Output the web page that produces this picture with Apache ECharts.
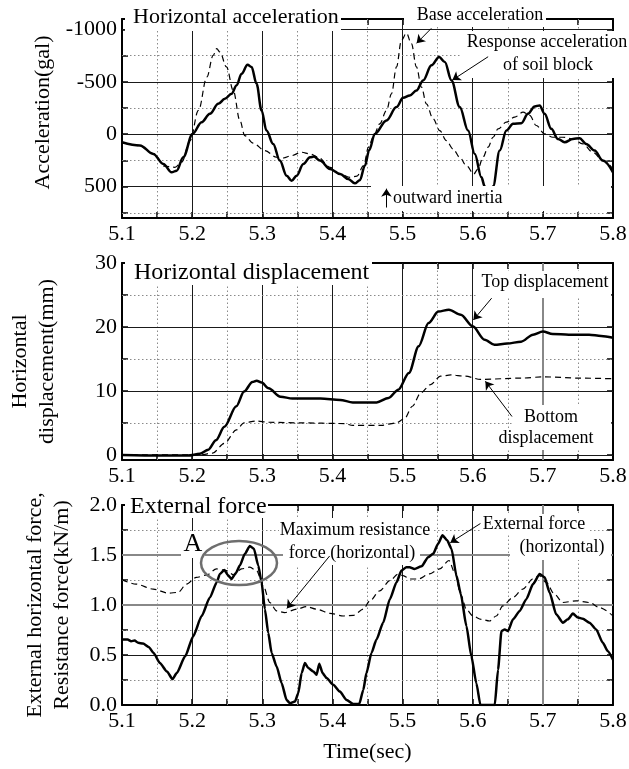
<!DOCTYPE html>
<html><head><meta charset="utf-8">
<script src="https://cdn.jsdelivr.net/npm/echarts@6/dist/echarts.min.js"></script>
<style>html,body{margin:0;padding:0;background:#fff}#c{width:629px;height:769px}</style>
</head><body><div id="c"></div>
<script>
// ---------- tick values ----------
const timeTicks = [5.1, 5.2, 5.3, 5.4, 5.5, 5.6, 5.7, 5.8];
const timeMinor = [5.15, 5.25, 5.35, 5.45, 5.55, 5.65, 5.75];
const accTicks = [-1000, -500, 0, 500];
const accMinor = [-750, -250, 250, 750];
const dispTicks = [0, 10, 20, 30];
const dispMinor = [5, 15, 25];
const forceTicks = [0, 0.5, 1.0, 1.5, 2.0];
const forceMinor = [0.25, 0.75, 1.25, 1.75];

// ---------- data: [time (s), value] ----------
const baseAcc = [[5.100,77],[5.125,110],[5.145,188],[5.161,306],[5.1755,316],[5.185,268],[5.197,61],[5.209,-227],[5.221,-546],[5.230,-753],[5.235,-817],[5.2396,-785],[5.249,-642],[5.2586,-418],[5.2681,-131],[5.275,13],[5.287,86],[5.3037,156],[5.3203,220],[5.330,227],[5.3418,204],[5.356,172],[5.368,188],[5.380,220],[5.3965,316],[5.411,380],[5.4254,412],[5.435,400],[5.4444,300],[5.4515,124],[5.458,29],[5.4675,-99],[5.4771,-227],[5.4842,-386],[5.4913,-642],[5.4984,-897],[5.5055,-965],[5.5126,-865],[5.5198,-642],[5.5269,-450],[5.534,-290],[5.5435,-147],[5.553,-35],[5.5625,61],[5.5719,140],[5.5815,220],[5.591,300],[5.6015,380],[5.6076,330],[5.6147,220],[5.6219,124],[5.629,29],[5.6361,-51],[5.648,-115],[5.6598,-163],[5.6717,-211],[5.6812,-179],[5.6907,-83],[5.7025,-3],[5.7144,29],[5.7286,29],[5.7428,45],[5.757,93],[5.7713,172],[5.7855,252],[5.800,332]];
const responseAcc = [[5.100,77],[5.1256,108],[5.1446,188],[5.1589,284],[5.1707,364],[5.178,348],[5.1873,220],[5.2006,-3],[5.2135,-115],[5.2253,-195],[5.2372,-290],[5.2467,-338],[5.2562,-386],[5.2633,-466],[5.2705,-578],[5.279,-664],[5.2847,-642],[5.2918,-482],[5.299,-227],[5.306,-35],[5.3155,93],[5.325,252],[5.3347,396],[5.3418,444],[5.349,396],[5.3585,284],[5.368,220],[5.3737,214],[5.3822,252],[5.3965,332],[5.411,380],[5.4225,428],[5.432,469],[5.439,440],[5.4463,300],[5.4525,150],[5.4604,-3],[5.4771,-131],[5.4913,-259],[5.5008,-348],[5.5103,-370],[5.5198,-418],[5.5293,-514],[5.5412,-658],[5.5521,-737],[5.5602,-690],[5.5697,-514],[5.5815,-259],[5.5934,-35],[5.6029,188],[5.6124,412],[5.6171,498],[5.6233,620],[5.629,498],[5.6385,156],[5.648,-35],[5.6575,-99],[5.6693,-105],[5.6788,-195],[5.6883,-265],[5.6954,-275],[5.7025,-195],[5.712,-51],[5.7215,45],[5.731,77],[5.7428,45],[5.7523,38],[5.7618,93],[5.7737,156],[5.7855,252],[5.800,364]];
const topDisp = [[5.100,0],[5.154,-0.1],[5.194,-0.1],[5.211,0.16],[5.223,0.8],[5.234,2.3],[5.246,4.4],[5.263,7.6],[5.274,9.9],[5.286,11.4],[5.292,11.6],[5.299,11.3],[5.309,10.4],[5.326,9.1],[5.343,8.8],[5.383,8.8],[5.411,8.6],[5.429,8.2],[5.463,8.2],[5.480,8.9],[5.494,10.2],[5.509,12.8],[5.523,17.0],[5.537,20.6],[5.551,22.4],[5.566,22.7],[5.583,21.9],[5.600,20.1],[5.617,18.0],[5.631,17.2],[5.649,17.4],[5.669,17.7],[5.686,18.8],[5.700,19.3],[5.714,18.9],[5.737,18.8],[5.766,18.8],[5.783,18.6],[5.800,18.3]];
const bottomDisp = [[5.100,0],[5.211,0],[5.229,0.26],[5.246,1.8],[5.263,3.9],[5.274,5.0],[5.291,5.3],[5.309,5.1],[5.354,5.0],[5.417,4.9],[5.429,4.6],[5.469,4.6],[5.491,5.0],[5.503,5.7],[5.514,7.6],[5.526,9.7],[5.540,11.0],[5.554,12.3],[5.569,12.5],[5.589,12.3],[5.611,11.8],[5.669,12.0],[5.700,12.2],[5.754,12.0],[5.800,11.9]];
const externalForce = [[5.100,0.655],[5.108,0.655],[5.113,0.638],[5.118,0.645],[5.123,0.622],[5.130,0.615],[5.138,0.581],[5.145,0.521],[5.154,0.42],[5.164,0.336],[5.172,0.259],[5.178,0.319],[5.190,0.487],[5.2016,0.688],[5.2135,0.89],[5.2253,1.075],[5.235,1.226],[5.2396,1.31],[5.2458,1.351],[5.2515,1.294],[5.2562,1.26],[5.2624,1.321],[5.268,1.395],[5.2752,1.512],[5.2823,1.59],[5.288,1.563],[5.2942,1.395],[5.299,1.227],[5.3037,0.958],[5.3085,0.722],[5.3133,0.521],[5.3204,0.386],[5.3276,0.218],[5.3347,0.05],[5.3395,0.017],[5.3466,0.034],[5.3513,0.118],[5.3561,0.319],[5.3608,0.42],[5.3655,0.37],[5.3727,0.336],[5.3774,0.302],[5.3812,0.413],[5.386,0.319],[5.3917,0.269],[5.4012,0.202],[5.4107,0.134],[5.4202,0.05],[5.4297,0.01],[5.4382,0.01],[5.444,0.151],[5.4485,0.319],[5.4557,0.521],[5.4628,0.655],[5.4723,0.823],[5.4818,1.058],[5.4913,1.226],[5.4984,1.344],[5.5055,1.378],[5.510,1.378],[5.517,1.361],[5.527,1.387],[5.5365,1.478],[5.5436,1.512],[5.5507,1.613],[5.5569,1.697],[5.5635,1.647],[5.5697,1.563],[5.5768,1.294],[5.583,1.11],[5.591,0.79],[5.5981,0.487],[5.6052,0.218],[5.611,0],[5.6314,0],[5.6361,0.353],[5.641,0.739],[5.6456,0.756],[5.6503,0.739],[5.6575,0.857],[5.667,0.941],[5.6764,1.058],[5.686,1.209],[5.6954,1.31],[5.7025,1.277],[5.7096,1.126],[5.719,0.907],[5.7286,0.823],[5.7357,0.857],[5.7428,0.914],[5.750,0.874],[5.757,0.863],[5.7665,0.823],[5.776,0.756],[5.7855,0.622],[5.7926,0.538],[5.800,0.454]];
const maxResistance = [[5.100,1.253],[5.120,1.209],[5.1446,1.159],[5.166,1.119],[5.180,1.126],[5.192,1.209],[5.206,1.276],[5.2206,1.30],[5.2348,1.361],[5.249,1.344],[5.2595,1.30],[5.2704,1.361],[5.2823,1.378],[5.2918,1.344],[5.3013,1.193],[5.3108,1.025],[5.3203,0.941],[5.332,0.924],[5.349,0.958],[5.363,0.984],[5.3774,0.958],[5.3965,0.917],[5.4155,0.89],[5.430,0.897],[5.444,0.958],[5.4533,1.041],[5.4675,1.142],[5.4818,1.243],[5.4937,1.31],[5.5008,1.293],[5.5103,1.26],[5.5222,1.26],[5.5386,1.311],[5.5528,1.361],[5.5661,1.445],[5.5742,1.327],[5.5837,1.092],[5.5908,0.958],[5.6003,0.89],[5.6121,0.857],[5.624,0.84],[5.6335,0.89],[5.643,0.991],[5.6572,1.075],[5.6715,1.159],[5.6857,1.26],[5.6952,1.294],[5.7047,1.227],[5.7165,1.109],[5.7284,1.025],[5.7474,1.042],[5.7664,1.025],[5.7806,0.975],[5.800,0.89]];

// annotation arrows, [[tail], [head]] in data units
const accArrows = [[[5.541,-1011],[5.520,-868]], [[5.622,-740],[5.571,-517]], [[5.477,700],[5.477,520]]];
const dispArrows = [[[5.627,24.5],[5.601,21.1]], [[5.656,6.0],[5.618,11.5]]];
const forceArrows = [[[5.396,1.49],[5.335,0.966]], [[5.611,1.815],[5.568,1.623]]];

// ---------- helpers ----------
const FONT = '"Liberation Serif", "Times New Roman", serif';
const grids = [
  {left:122, top:19, width:491, height:199},
  {left:122, top:263, width:491, height:197},
  {left:122, top:505, width:491, height:200}
].map(g => Object.assign({outerBoundsMode:'none', containLabel:false}, g));

const tickStyle = {color:'#000', width:1.5};
function xAxes(gi, name) {
  const common = {gridIndex: gi, type:'value', min:5.1, max:5.8,
    axisLine:{show:true, onZero:false, lineStyle:{color:'#000', width:2}},
    axisTick:{show:true, inside:true, length:6, customValues: timeTicks.concat(timeMinor), lineStyle: tickStyle},
    splitLine:{show:false}, minorSplitLine:{show:false}};
  return [
    Object.assign({}, common, {position:'bottom', name: name || '', nameLocation:'middle', nameGap:36,
      nameMoveOverlap:false,
      nameTextStyle:{fontFamily:FONT, fontSize:22, color:'#000'},
      axisLabel:{show:true, customValues: timeTicks, formatter: v => Number(v).toFixed(1),
        fontFamily:FONT, fontSize:22, color:'#000', margin:5}}),
    Object.assign({}, common, {position:'top', axisLabel:{show:false}})
  ];
}
function yAxes(gi, min, max, labels, ticks, fmt, name, nameGap, inverse, namePad) {
  const common = {gridIndex: gi, type:'value', min, max, inverse: !!inverse,
    axisLine:{show:true, onZero:false, lineStyle:{color:'#000', width:2}},
    axisTick:{show:true, inside:true, length:6, customValues: ticks, lineStyle: tickStyle},
    splitLine:{show:false}};
  return [
    Object.assign({}, common, {position:'left', name, nameLocation:'middle', nameRotate:90, nameGap,
      nameMoveOverlap:false,
      nameTextStyle:{fontFamily:FONT, fontSize:22, color:'#000', lineHeight:27, align:'center', padding: namePad || 0},
      axisLabel:{show:true, customValues: labels, formatter: fmt, fontFamily:FONT, fontSize:22, color:'#000', margin:5}}),
    Object.assign({}, common, {position:'right', axisLabel:{show:false}})
  ];
}
const majorLine = c => ({color: c || '#1a1a1a', width: c ? 2 : 1, type:'solid'});
const minorLine = {color:'#8a8a8a', width:1, type:[1.5,2.5]};
function gridSeries(i, yMajor, yMinor, ymin, ymax, grayY, grayX) {
  const d = [];
  timeTicks.filter(v => v > 5.1 && v < 5.8).forEach(v => d.push({xAxis:v, lineStyle: majorLine(grayX.includes(v) ? '#888' : null)}));
  timeMinor.forEach(v => d.push({xAxis:v, lineStyle: minorLine}));
  yMajor.filter(v => v > ymin && v < ymax).forEach(v => d.push({yAxis:v, lineStyle: majorLine(grayY.includes(v) ? '#888' : null)}));
  yMinor.filter(v => v > ymin && v < ymax).forEach(v => d.push({yAxis:v, lineStyle: minorLine}));
  return {type:'line', xAxisIndex:2*i, yAxisIndex:2*i, data:[], z:1, silent:true, animation:false,
    markLine:{z:1, silent:true, symbol:'none', animation:false, label:{show:false}, data:d}};
}
function arrowSeries(i, arrows) {
  return {type:'line', xAxisIndex:2*i, yAxisIndex:2*i, data:[], z:20, silent:true, animation:false,
    markLine:{z:30, silent:true, symbol:['none','arrow'], symbolSize:8, animation:false, label:{show:false},
      lineStyle:{color:'#000', width:1, type:'solid'},
      data: arrows.map(a => [{coord:a[0]}, {coord:a[1]}])}};
}
function dataSeries(i, data, dashed, smooth) {
  return {type:'line', xAxisIndex:2*i, yAxisIndex:2*i, data, showSymbol:false, symbol:'none', z:3,
    smooth: smooth, smoothMonotone:'x', animation:false,
    lineStyle: dashed ? {color:'#000', width:1.2, type:[6,4]} : {color:'#000', width:2.5}};
}

const fmtInt = v => String(v);
const fmt1 = v => Number(v).toFixed(1);

// ---------- annotations ----------
function box(x, y, w, h) { return {type:'rect', z:10, shape:{x, y, width:w, height:h}, style:{fill:'#fff'}, silent:true}; }
function txt(x, y, s, size, align) {
  return {type:'text', z:12, x, y, silent:true, style:{text:s, fontFamily:FONT, fontSize:size, fill:'#000',
    align: align || 'left', verticalAlign:'middle', textAlign: align || 'left', textVerticalAlign:'middle'}};
}
const graphics = [
  // panel 1
  box(125,3,216,28), box(404,3,142,24), box(462,31,167,47), box(371,186,240,25),
  txt(133,17,'Horizontal acceleration',22),
  txt(480,15,'Base acceleration',18,'center'),
  txt(547,42,'Response acceleration',18,'center'),
  txt(548,65,'of soil block',18,'center'),
  txt(393,198,'outward inertia',18),
  // panel 2
  box(125,255,247,30), box(476,271,135,27), box(514,405,97,23), box(480,428,131,22),
  txt(134,273,'Horizontal displacement',24),
  txt(545,282,'Top displacement',18,'center'),
  txt(551,417,'Bottom',18,'center'),
  txt(546,438,'displacement',18,'center'),
  // panel 3
  box(125,494,143,24), box(181,531,24,27), box(279,518,153,24), box(283,542,137,23),
  box(480,514,110,21), box(510,535,101,25),
  txt(130,507,'External force',24),
  txt(193,544,'A',26,'center'),
  txt(355,530,'Maximum resistance',18,'center'),
  txt(352,553,'force (horizontal)',18,'center'),
  txt(534,524,'External force',18,'center'),
  txt(562,547,'(horizontal)',18,'center'),
  {type:'ellipse', z:11, silent:true, shape:{cx:239, cy:563, rx:38, ry:22}, style:{fill:'none', stroke:'#6e6e6e', lineWidth:2.5}}
];

const chart = echarts.init(document.getElementById('c'), null, {renderer:'canvas'});
chart.setOption({
  animation:false,
  backgroundColor:'#fff',
  grid: grids,
  xAxis: [].concat(xAxes(0), xAxes(1), xAxes(2, 'Time(sec)')),
  yAxis: [].concat(
    yAxes(0, -1100, 800, accTicks, accTicks.concat(accMinor), fmtInt, 'Acceleration(gal)', 65, true, [0,0,0,12]),
    yAxes(1, -0.8, 30, dispTicks, dispTicks.concat(dispMinor), fmtInt, 'Horizontal\ndisplacement(mm)', 61),
    yAxes(2, 0, 2, forceTicks, forceTicks.concat(forceMinor), fmt1, 'External horizontal force,\nResistance force(kN/m)', 46)
  ),
  series: [
    gridSeries(0, accTicks, accMinor, -1100, 800, [], []),
    dataSeries(0, baseAcc, true, 0.35),
    dataSeries(0, responseAcc, false, 0.35),
    arrowSeries(0, accArrows),
    gridSeries(1, dispTicks, dispMinor, -0.8, 30, [], [5.7]),
    dataSeries(1, bottomDisp, true, 0.3),
    dataSeries(1, topDisp, false, 0.3),
    arrowSeries(1, dispArrows),
    gridSeries(2, forceTicks, forceMinor, 0, 2, [1.0, 1.5], [5.7]),
    dataSeries(2, maxResistance, true, 0.3),
    dataSeries(2, externalForce, false, 0.2),
    arrowSeries(2, forceArrows)
  ],
  graphic: {elements: graphics}
});
</script>
</body></html>
